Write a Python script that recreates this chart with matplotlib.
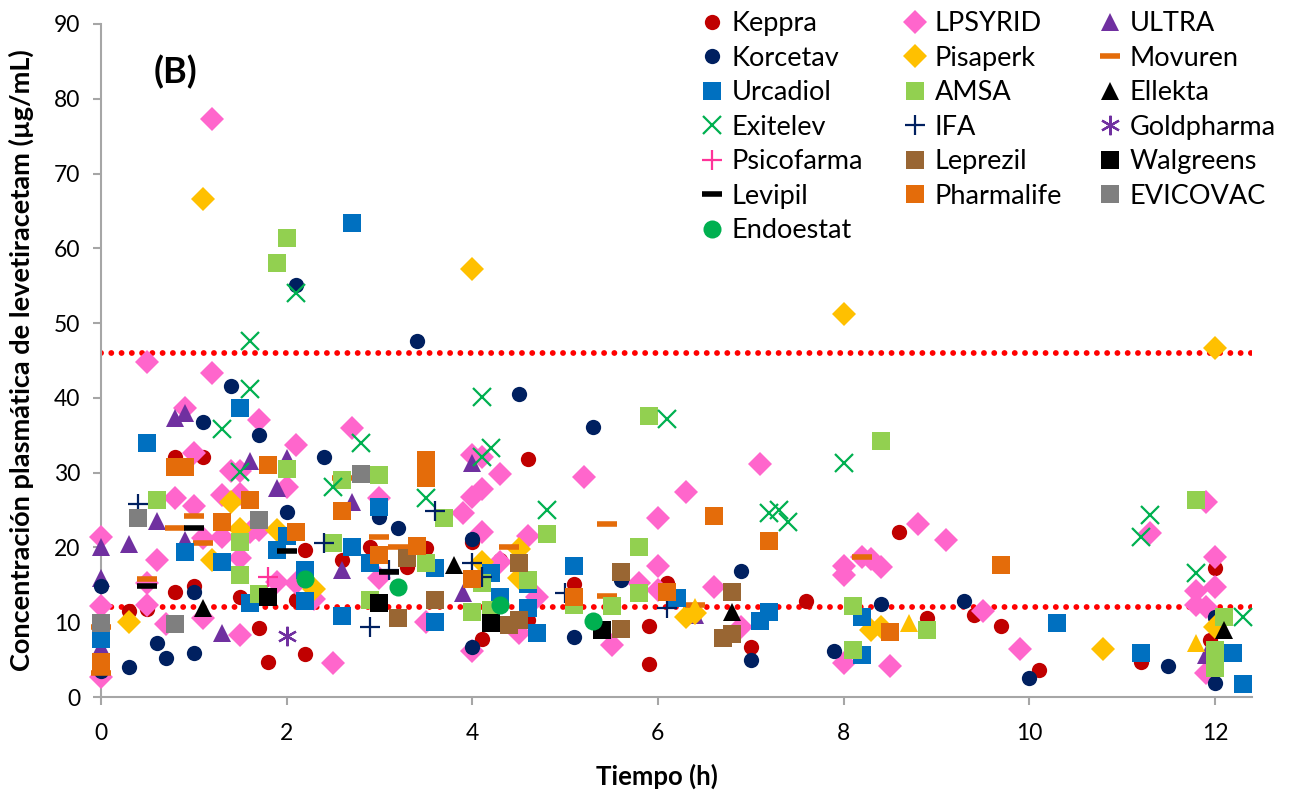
import matplotlib
matplotlib.use("Agg")
import matplotlib.pyplot as plt

plt.rcParams['font.family'] = ['Lato', 'DejaVu Sans']

# (tiempo h, concentracion ug/mL)
keppra = [(0.3, 11.5), (0.5, 11.8), (0.8, 14.0), (0.8, 32.1), (1.0, 14.8), (1.1, 32.1),
          (1.5, 13.4), (1.6, 22.0), (1.7, 9.2), (1.8, 4.7), (2.1, 13.0), (2.2, 5.7),
          (2.2, 19.6), (2.6, 18.3), (2.9, 20.0), (3.3, 17.4), (3.5, 19.9), (4.0, 20.7),
          (4.1, 7.7), (4.3, 18.3), (4.6, 31.8), (4.6, 10.3), (5.1, 15.1), (5.9, 9.5),
          (5.9, 4.4), (6.1, 15.2), (6.4, 11.2), (7.0, 6.7), (7.6, 12.8), (8.6, 22.1),
          (8.9, 10.5), (9.4, 11.0), (9.7, 9.5), (10.1, 3.6), (11.2, 4.7), (11.95, 7.6),
          (12.0, 17.2), (12.0, 10.7)]
lpsyrid = [(0.0, 21.4), (0.0, 12.2), (0.0, 2.7), (0.5, 44.8), (1.2, 77.3), (1.2, 43.3),
           (0.9, 38.6), (1.0, 32.6), (1.4, 30.2), (0.8, 26.6), (1.0, 25.5), (1.3, 27.0),
           (0.6, 18.3), (0.5, 12.3), (0.5, 15.3), (0.7, 9.8), (1.1, 10.6), (1.7, 37.0),
           (2.1, 33.7), (1.5, 30.2), (2.0, 28.1), (1.5, 27.1), (1.3, 21.4), (1.1, 21.3),
           (1.6, 22.0), (1.7, 22.3), (1.5, 18.6), (1.9, 15.4), (2.1, 15.2), (2.3, 13.1),
           (1.5, 8.3), (2.5, 4.6), (2.7, 36.0), (3.0, 26.6), (3.0, 15.9), (3.5, 10.0),
           (4.0, 32.4), (4.1, 32.1), (4.3, 29.8), (4.0, 26.8), (4.1, 27.8), (3.9, 24.6),
           (4.1, 22.0), (4.6, 21.5), (4.3, 18.0), (4.7, 13.4), (4.5, 8.6), (4.0, 6.1),
           (5.2, 29.4), (6.3, 27.4), (6.0, 23.9), (7.1, 31.1), (6.0, 17.5), (5.8, 15.2),
           (6.0, 14.3), (6.6, 14.7), (5.5, 7.0), (6.9, 9.4), (8.0, 17.5), (8.0, 16.3),
           (8.2, 18.7), (8.3, 18.4), (8.4, 17.4), (8.8, 23.2), (9.1, 21.0), (8.0, 4.5),
           (8.5, 4.1), (9.5, 11.5), (9.9, 6.4), (11.3, 21.9), (11.9, 26.1), (12.0, 18.7),
           (11.8, 14.2), (12.0, 14.7), (11.8, 12.3), (11.9, 12.0), (11.9, 3.2)]
ultra = [(0.0, 20.0), (0.3, 20.5), (0.0, 15.9), (0.0, 6.7), (0.6, 23.5), (0.8, 37.3),
         (0.9, 38.0), (0.9, 21.0), (1.3, 8.6), (1.6, 31.5), (2.0, 32.0), (1.9, 27.9),
         (2.6, 17.0), (2.7, 26.1), (3.9, 13.9), (4.0, 31.3), (6.4, 11.0), (11.9, 5.6)]
korcetav = [(0.0, 14.9), (0.0, 3.5), (0.3, 4.0), (0.6, 7.2), (0.7, 5.2), (1.0, 5.9),
            (1.0, 14.0), (1.1, 36.8), (1.4, 41.6), (1.7, 35.0), (2.0, 24.8), (2.1, 55.1),
            (2.4, 32.1), (3.0, 24.1), (3.2, 22.6), (3.4, 47.6), (4.0, 21.1), (4.0, 6.7),
            (4.5, 40.5), (5.1, 8.0), (5.3, 36.1), (5.6, 15.6), (6.9, 16.8), (7.0, 4.9),
            (7.9, 6.1), (8.4, 12.4), (9.3, 12.8), (10.0, 2.5), (11.5, 4.1), (12.0, 10.7),
            (12.0, 1.9)]
pisaperk = [(0.3, 10.0), (1.1, 66.6), (1.4, 26.1), (1.2, 18.3), (1.5, 22.5), (1.9, 22.3),
            (2.3, 14.4), (4.0, 57.2), (4.1, 18.0), (4.5, 19.8), (4.5, 15.9), (6.3, 10.7),
            (6.4, 11.2), (8.0, 51.2), (8.3, 8.9), (8.4, 9.4), (10.8, 6.4), (12.0, 46.7),
            (12.0, 9.4)]
movuren = [(0.0, 9.4), (0.0, 3.2), (0.5, 15.8), (0.8, 22.6), (1.0, 24.2), (1.1, 20.6),
           (2.6, 29.3), (3.0, 21.4), (3.2, 20.1), (4.4, 20.1), (5.45, 23.1), (5.45, 13.5),
           (6.4, 12.3), (8.2, 18.7)]
urcadiol = [(0.0, 7.7), (0.5, 34.0), (0.9, 19.4), (1.3, 18.0), (1.5, 38.6), (1.6, 12.6),
            (1.9, 19.6), (2.0, 21.5), (2.2, 17.0), (2.2, 12.8), (2.6, 10.8), (2.7, 20.0),
            (2.7, 63.4), (2.9, 17.9), (3.0, 25.4), (3.6, 17.2), (3.6, 10.0), (4.2, 16.6),
            (4.3, 13.4), (4.6, 15.1), (4.6, 11.9), (4.7, 8.5), (5.1, 17.5), (6.2, 13.2),
            (7.1, 10.2), (7.2, 11.4), (8.2, 10.7), (8.2, 5.6), (10.3, 9.9), (11.2, 5.9),
            (12.2, 5.9), (12.3, 1.8)]
amsa = [(0.6, 26.3), (1.5, 20.7), (1.5, 16.3), (1.7, 13.8), (1.9, 58.0), (2.0, 61.4),
        (2.0, 30.5), (2.5, 20.6), (2.6, 29.0), (2.9, 13.0), (3.0, 29.7), (3.5, 17.9),
        (3.7, 23.9), (4.0, 11.4), (4.2, 11.6), (4.1, 15.2), (4.6, 15.7), (4.8, 21.8),
        (5.1, 12.3), (5.5, 12.2), (5.8, 20.1), (5.8, 13.9), (5.9, 37.6), (8.1, 12.2),
        (8.1, 6.3), (8.4, 34.2), (8.9, 9.0), (11.8, 26.3), (12.1, 10.7), (12.0, 6.3),
        (12.0, 3.9)]
ellekta = [(1.1, 11.9), (3.8, 17.6), (6.8, 11.4), (12.1, 9.0)]
exitelev = [(1.3, 35.8), (1.5, 30.1), (1.6, 47.6), (1.6, 41.2), (2.1, 54.0), (2.5, 28.1),
            (2.8, 34.0), (3.5, 26.6), (4.1, 40.1), (4.1, 32.1), (4.2, 33.3), (4.8, 25.0),
            (6.1, 37.2), (7.2, 24.6), (7.3, 25.0), (7.4, 23.4), (8.0, 31.3), (11.2, 21.4),
            (11.3, 24.3), (11.8, 16.6), (12.3, 10.7)]
ifa = [(0.4, 25.8), (2.4, 20.6), (2.9, 9.4), (3.1, 17.0), (3.6, 24.9), (4.0, 17.9),
       (4.1, 16.0), (5.0, 13.9), (6.1, 11.9)]
goldpharma = [(2.0, 8.2)]
psicofarma = [(1.8, 16.0)]
leprezil = [(3.2, 10.6), (3.3, 18.6), (3.6, 13.0), (4.4, 9.6), (4.5, 10.3), (4.5, 17.9),
            (5.6, 16.7), (5.6, 9.1), (6.7, 7.9), (6.8, 8.4), (6.8, 14.0)]
walgreens = [(1.8, 13.4), (3.0, 12.6), (4.2, 9.9), (5.4, 9.0)]
levipil = [(0.5, 14.9), (1.0, 22.6), (2.0, 19.5), (3.1, 16.7)]
pharmalife = [(0.0, 4.7), (0.8, 30.8), (0.9, 30.8), (1.3, 23.4), (1.6, 26.3), (1.8, 31.0),
              (2.1, 22.1), (2.6, 24.9), (3.0, 19.0), (3.4, 20.2), (3.5, 31.7), (3.5, 29.3),
              (4.0, 15.8), (5.1, 13.4), (6.1, 14.0), (6.6, 24.2), (7.2, 20.9), (8.5, 8.7),
              (9.7, 17.6)]
evicovac = [(0.0, 9.9), (0.4, 24.0), (0.8, 9.8), (1.7, 23.7), (2.8, 29.8)]
endoestat = [(2.2, 15.8), (3.2, 14.7), (4.3, 12.3), (5.3, 10.2)]
sin_leyenda = [(6.4, 12.0), (8.7, 9.9), (11.8, 7.2)]  # yellow triangles, no legend entry

limites = [46, 12]

series = [
    ("Keppra", keppra, "o", "#C00000", 11, 0),
    ("LPSYRID", lpsyrid, "D", "#FF66CC", 12, 0),
    ("ULTRA", ultra, "^", "#7030A0", 13, 0),
    ("Korcetav", korcetav, "o", "#002060", 11, 0),
    ("Pisaperk", pisaperk, "D", "#FFC000", 12, 0),
    ("Movuren", movuren, "_", "#E46C0A", 14, 4),
    ("Urcadiol", urcadiol, "s", "#0070C0", 12.5, 0),
    ("AMSA", amsa, "s", "#92D050", 12.5, 0),
    ("Ellekta", ellekta, "^", "black", 13, 0),
    ("Exitelev", exitelev, "x", "#00B050", 13.5, 1.6),
    ("IFA", ifa, "+", "#002060", 14, 1.6),
    ("Goldpharma", goldpharma, (6, 2, 0), "#7030A0", 14, 1.6),
    ("Psicofarma", psicofarma, "+", "#FF3399", 14, 1.6),
    ("Leprezil", leprezil, "s", "#996633", 12.5, 0),
    ("Walgreens", walgreens, "s", "black", 12.5, 0),
    ("Levipil", levipil, "_", "black", 14, 4),
    ("Pharmalife", pharmalife, "s", "#E46C0A", 12.5, 0),
    ("EVICOVAC", evicovac, "s", "#7F7F7F", 12.5, 0),
    ("Endoestat", endoestat, "o", "#00B050", 13, 0),
]

fig = plt.figure(figsize=(12.99, 7.96), dpi=100)
ax = fig.add_axes([101 / 1299, 1 - 697 / 796, (1252 - 101) / 1299, (697 - 24) / 796])

for y in limites:
    ax.plot([0, 12.4], [y, y], color="#FF0000", lw=4.2, linestyle=(0, (0.01, 1.75)),
            dash_capstyle="round", zorder=1)

handles = []
for nombre, pts, mk, col, ms, mew in series:
    t = [p[0] for p in pts]
    c = [p[1] for p in pts]
    h, = ax.plot(t, c, linestyle="none", marker=mk, color=col, markersize=ms,
                 markeredgewidth=mew, clip_on=False, label=nombre, zorder=3)
    handles.append(h)

ax.plot([p[0] for p in sin_leyenda], [p[1] for p in sin_leyenda], linestyle="none",
        marker="^", color="#FFC000", markersize=13, markeredgewidth=0, clip_on=False, zorder=3)

ax.set_xlim(0, 12.4)
ax.set_ylim(0, 90)
ax.set_xticks(range(0, 13, 2))
ax.set_yticks(range(0, 91, 10))
for s in ["top", "right"]:
    ax.spines[s].set_visible(False)
for s in ["left", "bottom"]:
    ax.spines[s].set_color("#A6A6A6")
    ax.spines[s].set_linewidth(1.5)
ax.tick_params(axis="both", colors="#A6A6A6", length=6, width=1.5, labelsize=16.5,
               labelcolor="black")
ax.tick_params(axis="x", pad=13)
ax.tick_params(axis="y", pad=9)

ax.set_xlabel("Tiempo (h)", fontsize=18.5, fontweight="bold", va="top")
ax.xaxis.set_label_coords(0.483, -0.099)
ax.set_ylabel("Concentración plasmática de levetiracetam (µg/mL)", fontsize=19.5,
              fontweight="bold")
ax.yaxis.set_label_coords(-0.058, 0.5)
ax.text(0.065, 0.929, "(B)", transform=ax.transAxes, fontsize=26, fontweight="bold",
        va="center", ha="center")

# legend laid out row-wise in three columns
cols = [[0, 3, 6, 9, 12, 15, 18], [1, 4, 7, 10, 13, 16], [2, 5, 8, 11, 14, 17]]
xs = [702 / 1299, 905 / 1299, 1100 / 1299]
for idx, x0 in zip(cols, xs):
    fig.legend([handles[k] for k in idx], [series[k][0] for k in idx],
               loc="upper left", bbox_to_anchor=(x0, 0.986), frameon=False,
               borderpad=0, borderaxespad=0, handlelength=0.75, handletextpad=0.35,
               labelspacing=0.35, fontsize=19.5)

fig.savefig("out.png", dpi=100)
